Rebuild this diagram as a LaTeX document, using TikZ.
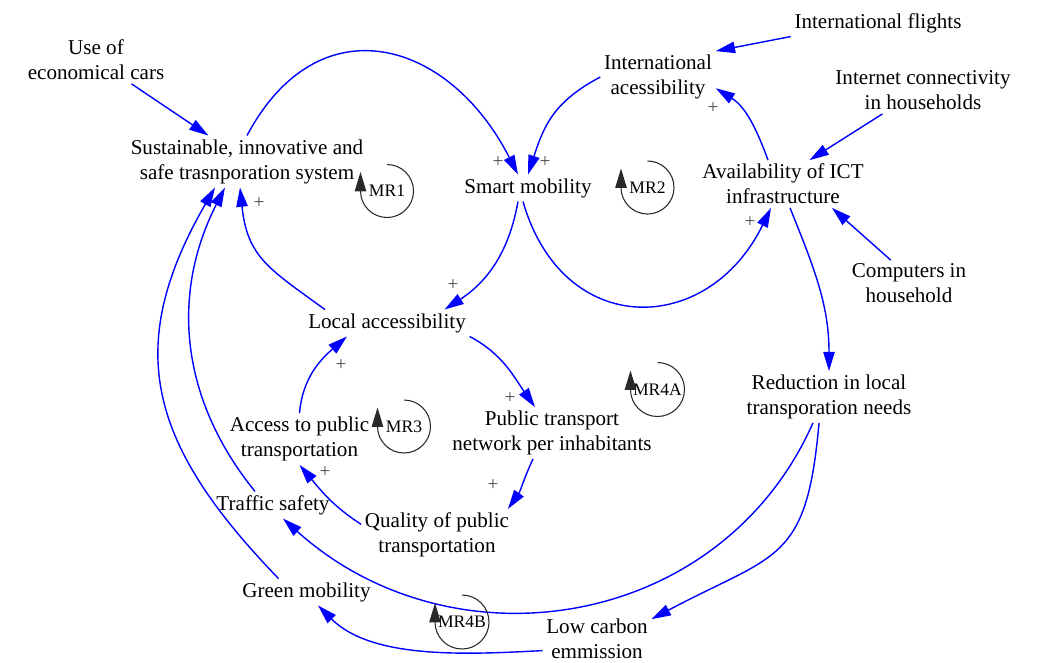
\documentclass[tikz,border=0pt]{standalone}
\usepackage{fontspec}
\setmainfont{Liberation Serif}
\usepackage{tikz}
\usetikzlibrary{arrows.meta,positioning,calc}
\definecolor{linkblue}{RGB}{0,0,255}
\definecolor{loopgray}{RGB}{40,40,40}

\begin{document}
\begin{tikzpicture}[>={Triangle[length=11pt,width=6.5pt]},
    var/.style={align=center,inner sep=2pt,font=\fontsize{12}{14.2}\selectfont},
    link/.style={->,color=linkblue,line width=0.8pt},
    pol/.style={font=\fontsize{11}{12}\selectfont,text=black!70,inner sep=0pt},
    loopname/.style={font=\fontsize{10}{12}\selectfont,inner sep=0pt},
    looparc/.style={->,color=loopgray,line width=0.6pt}]

    \useasboundingbox (0,0) rectangle (20.76,-13.24);

    % Variables
    \node[var] (econ) at (1.92,-1.2) {Use of\\economical cars};
    \node[var] (sust) at (4.94,-3.23) {Sustainable, innovative and\\safe trasnporation system};
    \node[var] (smart) at (10.56,-3.76) {Smart mobility};
    \node[var] (intacc) at (13.16,-1.54) {International\\acessibility};
    \node[var] (flights) at (17.56,-0.46) {International flights};
    \node[var] (internet) at (18.46,-1.81) {Internet connectivity\\in households};
    \node[var] (ict) at (15.66,-3.68) {Availability of ICT\\infrastructure};
    \node[var] (computers) at (18.18,-5.67) {Computers in\\household};
    \node[var] (local) at (7.74,-6.46) {Local accessibility};
    \node[var] (redu) at (16.58,-7.94) {Reduction in local\\transporation needs};
    \node[var] (ptn) at (11.04,-8.66) {Public transport\\network per inhabitants};
    \node[var] (access) at (5.99,-8.78) {Access to public\\transportation};
    \node[var] (traffic) at (5.46,-10.1) {Traffic safety};
    \node[var] (quality) at (8.74,-10.7) {Quality of public\\transportation};
    \node[var] (green) at (6.13,-11.84) {Green mobility};
    \node[var] (lowc) at (11.94,-12.78) {Low carbon\\emmission};

    % Links
    \draw[link] (econ) -- (sust);
    \draw[link] (sust.north) to[out=62,in=117,looseness=1.42] ([xshift=-0.2cm]smart.north);
    \draw[link] (intacc.west) to[out=208,in=72,looseness=1.1] (smart.north);
    \draw[link] (flights.south west) -- (intacc.north east);
    \draw[link] ([xshift=-0.3cm]ict.north) to[out=110,in=-32] (intacc.-11);
    \draw[link] (internet.210) -- (ict.42);
    \draw[link] (computers.128) -- (ict.-26);
    \draw[link] ([xshift=-0.1cm]smart.south) to[out=-74,in=-116,looseness=1.48] ([xshift=-0.24cm]ict.south);
    \draw[link] ([xshift=-0.2cm]smart.south) to[out=-100,in=33] ([xshift=1.15cm]local.north);
    \draw[link] ([xshift=-1.24cm]local.north) to[out=144,in=-84,looseness=1.2] ([xshift=-0.14cm]sust.south);
    \draw[link] (local.south east) to[out=-28,in=125] ([xshift=-0.34cm]ptn.north);
    \draw[link] ([xshift=-0.38cm]ptn.south) to[out=-115,in=55] ([xshift=-0.1cm]quality.north east);
    \draw[link] (quality.172) to[out=147,in=-50] (access.south);
    \draw[link] (access.north) to[out=85,in=-139] ([xshift=-0.8cm]local.south);
    \draw[link] ([xshift=0.14cm]ict.south) to[out=-68,in=90] (redu.north);
    \draw[link] ([xshift=-0.32cm]redu.south) to[out=-114,in=-42,looseness=1.08] ([xshift=0.2cm]traffic.south);
    \draw[link] ([xshift=-0.2cm]redu.south) to[out=-95,in=28,looseness=1.4] (lowc.20);
    \draw[link] (lowc.192) to[out=183,in=-45,looseness=0.85] ([xshift=0.23cm]green.south);
    \draw[link] ([xshift=-0.36cm]traffic.north) to[out=129,in=-117] ([xshift=-0.44cm]sust.south);
    \draw[link] ([xshift=-0.56cm]green.north) to[out=134,in=-120,looseness=1.2] ([xshift=-0.64cm]sust.south);

    % Polarities
    \node[pol] (p1) at (9.96,-3.24) {+};
    \node[pol] (p2) at (10.9,-3.24) {+};
    \node[pol] (p3) at (14.26,-2.16) {+};
    \node[pol] (p4) at (15.0,-4.44) {+};
    \node[pol] (p5) at (5.18,-4.06) {+};
    \node[pol] (p6) at (9.06,-5.7) {+};
    \node[pol] (p7) at (6.82,-7.3) {+};
    \node[pol] (p8) at (10.2,-7.96) {+};
    \node[pol] (p9) at (9.86,-9.7) {+};
    \node[pol] (p10) at (6.5,-9.44) {+};

    % Loop markers
    \node[loopname] (mr1) at (7.74,-3.82) {MR1};
    \draw[looparc] (mr1.center) ++(0,0.53) arc[start angle=90,end angle=-180,radius=0.53cm] -- ++(0,0.38);
    \node[loopname] (mr2) at (12.95,-3.75) {MR2};
    \draw[looparc] (mr2.center) ++(0,0.53) arc[start angle=90,end angle=-180,radius=0.53cm] -- ++(0,0.38);
    \node[loopname] (mr3) at (8.08,-8.53) {MR3};
    \draw[looparc] (mr3.center) ++(0,0.53) arc[start angle=90,end angle=-180,radius=0.53cm] -- ++(0,0.38);
    \node[loopname] (mr4a) at (13.15,-7.79) {MR4A};
    \draw[looparc] (mr4a.center) ++(0,0.54) arc[start angle=90,end angle=-180,radius=0.54cm] -- ++(0,0.38);
    \node[loopname] (mr4b) at (9.24,-12.44) {MR4B};
    \draw[looparc] (mr4b.center) ++(0,0.54) arc[start angle=90,end angle=-180,radius=0.54cm] -- ++(0,0.38);
\end{tikzpicture}
\end{document}
